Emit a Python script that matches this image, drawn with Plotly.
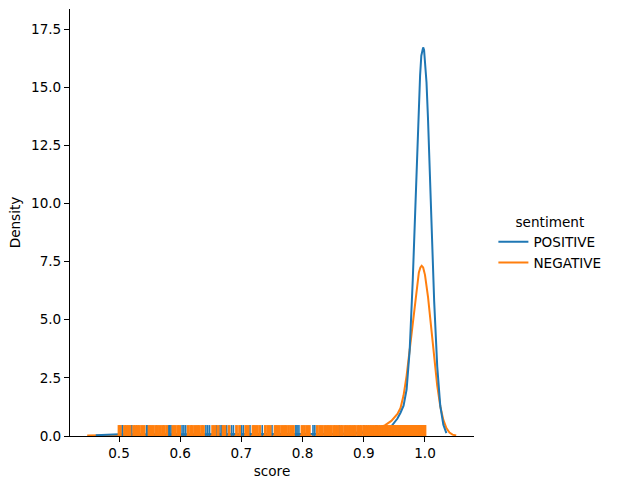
import plotly.graph_objects as go

# KDE curves
pos_x = [0.462, 0.50, 0.60, 0.70, 0.80, 0.88, 0.92, 0.935, 0.946, 0.955, 0.960, 0.965, 0.970,
         0.975, 0.980, 0.985, 0.990, 0.992, 0.994, 0.9955, 0.997, 0.9985, 1.000, 1.0025,
         1.005, 1.0075, 1.010, 1.015, 1.020, 1.025, 1.030, 1.035]
pos_y = [0.03, 0.08, 0.08, 0.08, 0.08, 0.1, 0.16, 0.25, 0.45, 0.75, 1.0, 1.3, 2.0,
         3.7, 6.7, 10.6, 14.3, 15.5, 16.35, 16.62, 16.71, 16.6, 16.2, 15.2,
         13.6, 11.7, 9.6, 5.8, 3.0, 1.3, 0.48, 0.12]

neg_x = [0.448, 0.50, 0.60, 0.70, 0.80, 0.88, 0.91, 0.925, 0.935, 0.945, 0.950, 0.955, 0.960,
         0.965, 0.970, 0.975, 0.980, 0.985, 0.990, 0.9925, 0.9946, 0.997, 1.000, 1.005, 1.010,
         1.015, 1.020, 1.025, 1.030, 1.035, 1.040, 1.045, 1.051]
neg_y = [0.02, 0.04, 0.04, 0.04, 0.04, 0.12, 0.25, 0.35, 0.47, 0.65, 0.8, 0.95, 1.2,
         1.75, 2.6, 3.7, 5.0, 6.15, 7.03, 7.25, 7.32, 7.25, 6.93, 5.97, 4.68,
         3.34, 2.17, 1.28, 0.69, 0.34, 0.15, 0.06, 0.02]

# rug values
pos_rug = [0.501, 0.505, 0.506, 0.520, 0.521, 0.545, 0.546, 0.581, 0.583, 0.585, 0.603, 0.606,
           0.609, 0.642, 0.645, 0.648, 0.659, 0.665, 0.668, 0.676, 0.684, 0.687, 0.700, 0.703,
           0.714, 0.734, 0.750, 0.789, 0.791, 0.794, 0.817, 0.820, 0.86, 0.90, 0.92, 0.95,
           0.97, 0.98, 0.99, 0.995, 1.0]
neg_rug = [0.500, 0.502, 0.509, 0.512, 0.515, 0.518, 0.524, 0.527, 0.530, 0.533, 0.537, 0.541,
           0.549, 0.552, 0.556, 0.560, 0.563, 0.567, 0.571, 0.574, 0.578, 0.588, 0.592, 0.596,
           0.599, 0.613, 0.617, 0.620, 0.624, 0.628, 0.631, 0.635, 0.638, 0.653, 0.657, 0.662,
           0.670, 0.673, 0.680, 0.692, 0.697, 0.707, 0.711, 0.719, 0.722, 0.726, 0.730,
           0.739, 0.743, 0.747, 0.755, 0.758, 0.762, 0.766, 0.770, 0.773, 0.777, 0.781, 0.785,
           0.799, 0.803, 0.807, 0.811, 0.824, 0.828, 0.832, 0.836, 0.840, 0.843, 0.847,
           0.851, 0.854, 0.858, 0.862, 0.865, 0.869, 0.872, 0.876, 0.879, 0.883, 0.886, 0.890,
           0.893, 0.896, 0.900, 0.903, 0.906, 0.909, 0.912, 0.915, 0.918, 0.921, 0.924, 0.927,
           0.930, 0.933, 0.936, 0.938, 0.941, 0.944, 0.946, 0.949, 0.951, 0.954, 0.956, 0.959,
           0.961, 0.963, 0.965, 0.967, 0.969, 0.971, 0.973, 0.975, 0.977, 0.979, 0.981, 0.983,
           0.985, 0.987, 0.988, 0.990, 0.991, 0.993, 0.994, 0.995, 0.996, 0.997, 0.998, 0.999,
           1.000]

x_ticks = [0.5, 0.6, 0.7, 0.8, 0.9, 1.0]
y_ticks = [0.0, 2.5, 5.0, 7.5, 10.0, 12.5, 15.0, 17.5]

BLUE = "#1f77b4"
ORANGE = "#ff7f0e"
RUG_H = 0.47
FONT = "DejaVu Sans"
FS = 13.6


def rug_xy(vals):
    xs, ys = [], []
    for v in vals:
        xs += [v, v, None]
        ys += [0, RUG_H, None]
    return xs, ys


fig = go.Figure()
fig.add_trace(go.Scatter(x=neg_x, y=neg_y, mode="lines", line=dict(color=ORANGE, width=2),
                         showlegend=False))
fig.add_trace(go.Scatter(x=pos_x, y=pos_y, mode="lines", line=dict(color=BLUE, width=2),
                         showlegend=False))
bx, by = rug_xy(pos_rug)
fig.add_trace(go.Scatter(x=bx, y=by, mode="lines", line=dict(color=BLUE, width=1.6),
                         showlegend=False, hoverinfo="skip"))
ox, oy = rug_xy(neg_rug)
fig.add_trace(go.Scatter(x=ox, y=oy, mode="lines", line=dict(color=ORANGE, width=2.8),
                         showlegend=False, hoverinfo="skip"))
# legend entries
fig.add_trace(go.Scatter(x=[None], y=[None], mode="lines", line=dict(color=BLUE, width=2), name="POSITIVE"))
fig.add_trace(go.Scatter(x=[None], y=[None], mode="lines", line=dict(color=ORANGE, width=2), name="NEGATIVE"))

axis_common = dict(showline=True, linecolor="black", linewidth=1, ticks="outside", ticklen=5,
                   tickcolor="black", tickwidth=1, showgrid=False, zeroline=False, mirror=False,
                   tickfont=dict(family=FONT, size=FS, color="black"))

fig.update_xaxes(range=[0.4199, 1.0801], tickvals=x_ticks, ticktext=[f"{v:.1f}" for v in x_ticks],
                 title=dict(text="score", font=dict(family=FONT, size=FS, color="black"), standoff=6),
                 **axis_common)
fig.update_yaxes(range=[0, 18.36], tickvals=y_ticks, ticktext=[f"{v:.1f}" for v in y_ticks],
                 title=dict(text="Density", font=dict(family=FONT, size=FS, color="black"), standoff=7),
                 **axis_common)

fig.update_layout(
    width=617, height=489,
    margin=dict(l=70, r=143, t=9, b=53),
    plot_bgcolor="white", paper_bgcolor="white",
    font=dict(family=FONT, size=FS, color="black"),
    legend=dict(x=1.048, y=0.45, xanchor="left", yanchor="middle",
                title=dict(text="sentiment", side="top center", font=dict(size=FS)),
                font=dict(size=FS), bgcolor="rgba(0,0,0,0)", tracegroupgap=0, itemwidth=30),
)

fig.write_html("out.html")
